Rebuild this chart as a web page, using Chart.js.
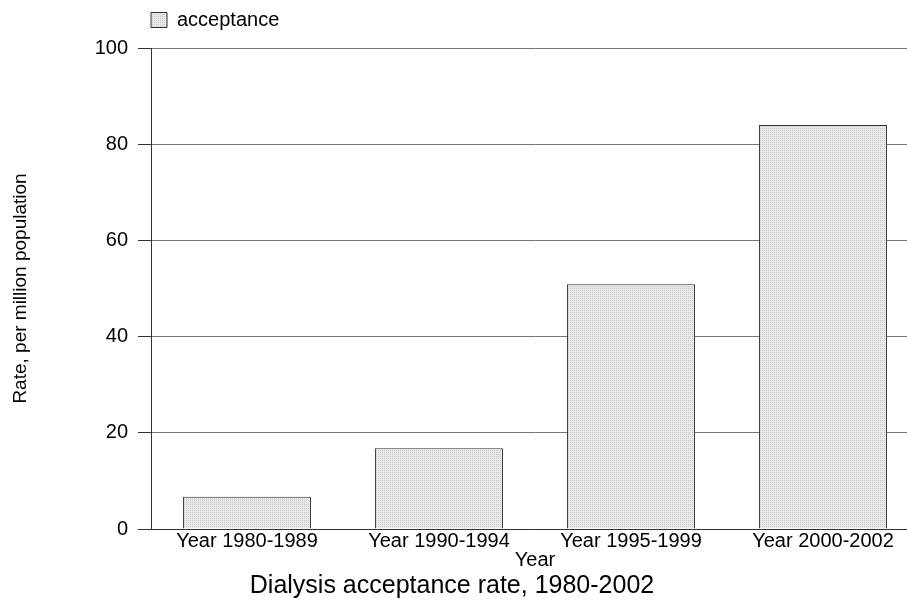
<!DOCTYPE html>
<html>
<head>
<meta charset="utf-8">
<script src="https://cdn.jsdelivr.net/npm/chart.js@4.4.0/dist/chart.umd.min.js"></script>
<style>
  html, body { margin: 0; padding: 0; background: #fff; overflow: hidden; }
  #wrap { position: absolute; left: 0; top: 0; width: 922px; height: 605px; }
</style>
</head>
<body>
<div id="wrap"><canvas id="chart" width="922" height="605"></canvas></div>
<script>
// chart data
const categories = ['Year 1980-1989', 'Year 1990-1994', 'Year 1995-1999', 'Year 2000-2002'];
const acceptance = [6.7, 16.8, 50.9, 84];
const yTicks = [0, 20, 40, 60, 80, 100];

const FONT = 'Arial, "Liberation Sans", sans-serif';

// fine dotted grey fill like the original
function makePattern() {
    const p = document.createElement('canvas');
    p.width = 2; p.height = 2;
    const c = p.getContext('2d');
    c.fillStyle = '#e8e8e8';
    c.fillRect(0, 0, 2, 2);
    c.fillStyle = '#cdcdcd';
    c.fillRect(0, 0, 1, 1);
    return c.createPattern(p, 'repeat');
}

const ctx = document.getElementById('chart').getContext('2d');
const fill = makePattern();

// extra room under the legend, and legend pulled left onto the y axis
const legendTweak = {
    id: 'legendTweak',
    beforeInit(chart) {
        const fit = chart.legend.fit;
        chart.legend.fit = function() {
            fit.call(this);
            this.height += 8;
        };
    },
    afterLayout(chart) {
        chart.legend.left -= 10;
        chart.legend.right -= 10;
    }
};

// main title drawn under the axis, centred on the visible 907px window
const bottomTitle = {
    id: 'bottomTitle',
    afterDraw(chart) {
        const c = chart.ctx;
        c.save();
        c.font = '25px ' + FONT;
        c.fillStyle = '#000';
        c.textAlign = 'center';
        c.textBaseline = 'alphabetic';
        c.fillText('Dialysis acceptance rate, 1980-2002', 452, 593);
        c.restore();
    }
};

new Chart(ctx, {
    type: 'bar',
    data: {
        labels: categories,
        datasets: [{
            label: 'acceptance',
            data: acceptance,
            backgroundColor: fill,
            borderColor: '#333',
            borderWidth: 1,
            borderSkipped: 'bottom',
            barPercentage: 1,
            categoryPercentage: 0.667
        }]
    },
    options: {
        responsive: false,
        animation: false,
        layout: {
            padding: { top: 0, right: 3, bottom: 33, left: 0 }
        },
        plugins: {
            legend: {
                position: 'top',
                align: 'start',
                fullSize: false,
                labels: {
                    boxWidth: 16,
                    boxHeight: 15,
                    padding: 10,
                    color: '#000',
                    font: { family: FONT, size: 20 }
                }
            },
            tooltip: { enabled: false }
        },
        scales: {
            x: {
                grid: { display: false, drawTicks: false, tickLength: 0 },
                border: { color: '#333', width: 1 },
                ticks: {
                    color: '#000',
                    padding: 0,
                    maxRotation: 0,
                    font: { family: FONT, size: 20 }
                },
                title: {
                    display: true,
                    text: 'Year',
                    color: '#000',
                    padding: 0,
                    font: { family: FONT, size: 20 }
                },
                afterFit: function(scale) { scale.height = 43; }
            },
            y: {
                min: 0,
                max: 100,
                afterBuildTicks: function(scale) {
                    scale.ticks = yTicks.map(v => ({ value: v }));
                },
                grid: {
                    color: '#777',
                    tickLength: 13,
                    tickColor: '#333'
                },
                border: { color: '#333', width: 1 },
                ticks: {
                    color: '#000',
                    padding: 10,
                    font: { family: FONT, size: 20 }
                },
                title: {
                    display: true,
                    text: 'Rate, per million population',
                    color: '#000',
                    padding: { top: 9, bottom: 0 },
                    font: { family: FONT, size: 19 }
                },
                afterFit: function(scale) { scale.width = 151; }
            }
        }
    },
    plugins: [legendTweak, bottomTitle]
});
</script>
</body>
</html>
